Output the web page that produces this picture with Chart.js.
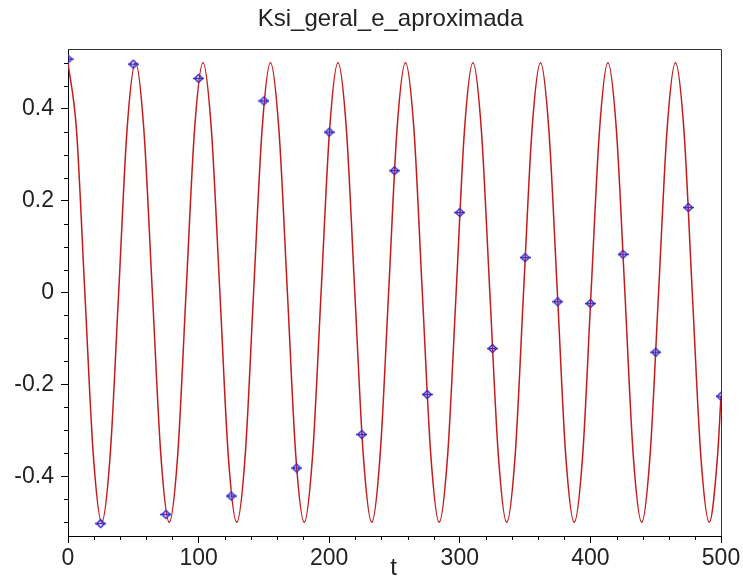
<!DOCTYPE html>
<html>
<head>
<meta charset="utf-8">
<script src="https://cdn.jsdelivr.net/npm/chart.js@4.4.1/dist/chart.umd.min.js"></script>
<style>
  html, body { margin: 0; padding: 0; background: #fff; }
  #wrap { width: 743px; height: 580px; }
</style>
</head>
<body>
<div id="wrap"><canvas id="ksi-chart" width="743" height="580"></canvas></div>
<script>
// Curva geral: tempos e valores lidos em cada oitavo de período
const curveT = [
    0, 6.5, 12.9, 19.4, 25.8, 32.3, 38.8, 45.2,
    51.7, 58.1, 64.6, 71.1, 77.5, 84.0, 90.4, 96.9,
    103.4, 109.8, 116.3, 122.7, 129.2, 135.7, 142.1, 148.6,
    155.0, 161.5, 168.0, 174.4, 180.9, 187.3, 193.8, 200.3,
    206.7, 213.2, 219.6, 226.1, 232.6, 239.0, 245.5, 251.9,
    258.4, 264.9, 271.3, 277.8, 284.2, 290.7, 297.2, 303.6,
    310.1, 316.5, 323.0, 329.5, 335.9, 342.4, 348.8, 355.3,
    361.8, 368.2, 374.7, 381.1, 387.6, 394.1, 400.5, 407.0,
    413.4, 419.9, 426.4, 432.8, 439.3, 445.7, 452.2, 458.7,
    465.1, 471.6, 478.0, 484.5, 491.0, 497.4, 500
];
const curveY = [
    0.5, 0.354, 0, -0.354, -0.5, -0.354, 0, 0.354,
    0.5, 0.354, 0, -0.354, -0.5, -0.354, 0, 0.354,
    0.5, 0.354, 0, -0.354, -0.5, -0.354, 0, 0.354,
    0.5, 0.354, 0, -0.354, -0.5, -0.354, 0, 0.354,
    0.5, 0.354, 0, -0.354, -0.5, -0.354, 0, 0.354,
    0.5, 0.354, 0, -0.354, -0.5, -0.354, 0, 0.354,
    0.5, 0.354, 0, -0.354, -0.5, -0.354, 0, 0.354,
    0.5, 0.354, 0, -0.354, -0.5, -0.354, 0, 0.354,
    0.5, 0.354, 0, -0.354, -0.5, -0.354, 0, 0.354,
    0.5, 0.354, 0, -0.354, -0.5, -0.354, -0.225
];

// Aproximação: pontos a cada 25 unidades de t
const sampleT = [0, 25, 50, 75, 100, 125, 150, 175, 200, 225, 250,
                 275, 300, 325, 350, 375, 400, 425, 450, 475, 500];
const sampleY = [0.508, -0.503, 0.497, -0.483, 0.466, -0.443, 0.417, -0.382, 0.349, -0.309, 0.265,
                 -0.222, 0.174, -0.122, 0.076, -0.02, -0.024, 0.083, -0.13, 0.185, -0.226];

// Rótulos dos eixos
const xTicks = [0, 100, 200, 300, 400, 500];
const yTicks = [-0.4, -0.2, 0, 0.2, 0.4];
const xMinorStep = 20;
const yMinorStep = 0.05;

const TEXT_FONT = "'Liberation Sans', Arial, sans-serif";
const TEXT_COLOR = '#222';

/**
 * Marcador em losango com traço horizontal
 */
function makeDiamondMarker(color) {
    const c = document.createElement('canvas');
    c.width = 11;
    c.height = 11;
    const g = c.getContext('2d');
    g.strokeStyle = color;
    g.lineWidth = 1.5;
    g.beginPath();
    g.moveTo(1.5, 5.5);
    g.lineTo(5.5, 1.5);
    g.lineTo(9.5, 5.5);
    g.lineTo(5.5, 9.5);
    g.closePath();
    g.stroke();
    g.beginPath();
    g.moveTo(0, 5.5);
    g.lineTo(11, 5.5);
    g.stroke();
    return c;
}

/**
 * Moldura, marcas menores, título e rótulo do eixo t
 */
const framePlugin = {
    id: 'maple-frame',
    afterDraw(chart) {
        const { ctx, chartArea: a, scales } = chart;
        ctx.save();

        // moldura superior e direita
        ctx.strokeStyle = '#333';
        ctx.lineWidth = 1;
        ctx.beginPath();
        ctx.moveTo(a.left, a.top + 0.5);
        ctx.lineTo(a.right + 0.5, a.top + 0.5);
        ctx.lineTo(a.right + 0.5, a.bottom);
        ctx.stroke();

        // marcas menores
        ctx.strokeStyle = '#000';
        ctx.beginPath();
        for (let v = 0; v <= 500; v += xMinorStep) {
            if (v % 100 === 0) continue;
            const px = Math.round(scales.x.getPixelForValue(v)) + 0.5;
            ctx.moveTo(px, a.bottom);
            ctx.lineTo(px, a.bottom + 4);
        }
        for (let i = -10; i <= 10; i++) {
            if (i % 4 === 0) continue;
            const py = Math.round(scales.y.getPixelForValue(i * yMinorStep)) + 0.5;
            ctx.moveTo(a.left, py);
            ctx.lineTo(a.left - 4, py);
        }
        ctx.stroke();

        // título
        ctx.fillStyle = TEXT_COLOR;
        ctx.textAlign = 'center';
        ctx.textBaseline = 'middle';
        ctx.font = '24px ' + TEXT_FONT;
        const cx = (a.left + a.right) / 2;
        ctx.fillText('Ksi_geral_e_aproximada', cx - 4, 19);

        // rótulo do eixo horizontal
        ctx.font = '24px ' + TEXT_FONT;
        ctx.fillText('t', cx - 1, 568);
        ctx.restore();
    }
};

function initKsiChart() {
    const ctx = document.getElementById('ksi-chart').getContext('2d');

    const curvePoints = curveT.map((t, i) => ({ x: t, y: curveY[i] }));
    const samplePoints = sampleT.map((t, i) => ({ x: t, y: sampleY[i] }));

    new Chart(ctx, {
        type: 'line',
        data: {
            datasets: [
                {
                    label: 'aproximada',
                    data: samplePoints,
                    showLine: false,
                    pointStyle: makeDiamondMarker('#3a2cc4'),
                    pointRadius: 5,
                    order: 1
                },
                {
                    label: 'Ksi_geral',
                    data: curvePoints,
                    borderColor: '#c41c1c',
                    borderWidth: 1.5,
                    pointRadius: 0,
                    cubicInterpolationMode: 'monotone',
                    order: 2
                }
            ]
        },
        options: {
            responsive: false,
            animation: false,
            events: [],
            layout: { padding: { top: 49, right: 22, left: 0, bottom: 0 } },
            plugins: {
                legend: { display: false },
                title: { display: false },
                tooltip: { enabled: false }
            },
            scales: {
                x: {
                    type: 'linear',
                    min: 0,
                    max: 500,
                    afterFit(scale) { scale.height = 44; },
                    afterBuildTicks(scale) { scale.ticks = xTicks.map(v => ({ value: v })); },
                    border: { display: true, color: '#000', width: 1 },
                    grid: { drawOnChartArea: false, drawTicks: true, tickLength: 7, color: '#000' },
                    ticks: {
                        padding: 2,
                        color: TEXT_COLOR,
                        font: { family: TEXT_FONT, size: 23 },
                        maxRotation: 0,
                        callback: v => String(v)
                    }
                },
                y: {
                    type: 'linear',
                    min: -0.53,
                    max: 0.53,
                    afterFit(scale) { scale.width = 68; },
                    afterBuildTicks(scale) { scale.ticks = yTicks.map(v => ({ value: v })); },
                    border: { display: true, color: '#000', width: 1 },
                    grid: { drawOnChartArea: false, drawTicks: true, tickLength: 7, color: '#000' },
                    ticks: {
                        padding: 7,
                        color: TEXT_COLOR,
                        font: { family: TEXT_FONT, size: 23 },
                        callback: v => (v === 0 ? '0' : String(v))
                    }
                }
            }
        },
        plugins: [framePlugin]
    });
}

initKsiChart();
</script>
</body>
</html>
